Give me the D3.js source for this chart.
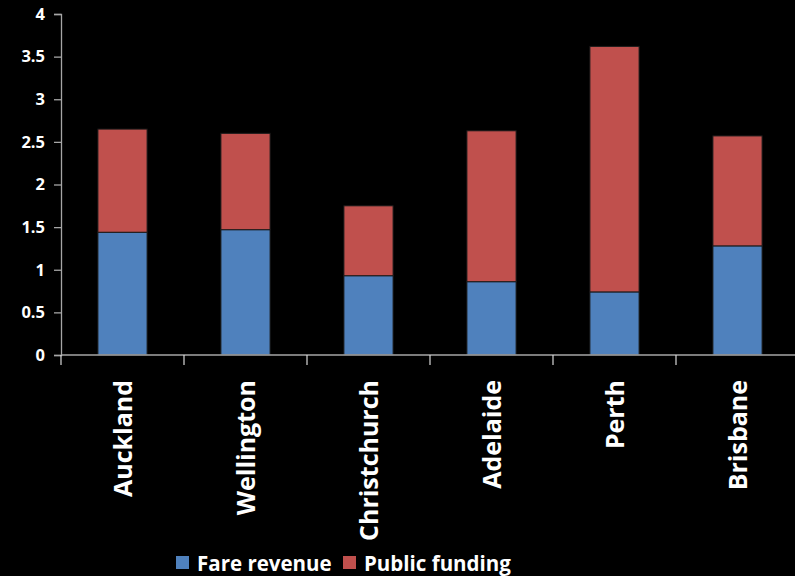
<!DOCTYPE html>
<html>
<head>
<meta charset="utf-8">
<script src="https://cdn.jsdelivr.net/npm/d3@7"></script>
<style>
  html, body { margin: 0; padding: 0; background: #000; overflow: hidden; }
  svg { display: block; }
  text { font-family: "Open Sans", "Noto Sans", sans-serif; font-weight: bold; fill: #fff; }
</style>
</head>
<body>
<svg id="chart" width="795" height="576"></svg>
<script>
// Operating cost per passenger split into fare revenue and public funding
const cities = ["Auckland", "Wellington", "Christchurch", "Adelaide", "Perth", "Brisbane"];
const fareRevenue = [1.44, 1.47, 0.93, 0.86, 0.74, 1.28];
const publicFunding = [1.21, 1.13, 0.82, 1.77, 2.88, 1.29];
const seriesNames = ["Fare revenue", "Public funding"];
const seriesColors = ["#4F81BD", "#C0504D"];
const yTicks = [0, 0.5, 1, 1.5, 2, 2.5, 3, 3.5, 4];

const svg = d3.select("#chart");
const width = 795, height = 576;
const plotLeft = 61, plotRight = 799, plotTop = 14, plotBottom = 355;

const rows = cities.map((c, i) => ({ city: c, "Fare revenue": fareRevenue[i], "Public funding": publicFunding[i] }));
const stacked = d3.stack().keys(seriesNames)(rows);

const x = d3.scaleBand().domain(cities).range([plotLeft, plotRight]).paddingInner(0.6).paddingOuter(0.3);
const y = d3.scaleLinear().domain([0, 4]).range([plotBottom, plotTop]);
const color = d3.scaleOrdinal().domain(seriesNames).range(seriesColors);

// Bars
svg.append("g").selectAll("g")
  .data(stacked).join("g")
  .attr("fill", d => color(d.key))
  .selectAll("rect")
  .data(d => d).join("rect")
  .attr("x", d => x(d.data.city))
  .attr("width", x.bandwidth())
  .attr("y", d => y(d[1]))
  .attr("height", d => y(d[0]) - y(d[1]))
  .attr("stroke", "#1a1a1a")
  .attr("stroke-width", 1);

// Y axis
const yAxis = svg.append("g")
  .attr("transform", `translate(${plotLeft},0)`)
  .call(d3.axisLeft(y).tickValues(yTicks).tickFormat(d3.format("")).tickSize(7).tickPadding(9));
yAxis.selectAll("line, path").attr("stroke", "#a6a6a6").attr("stroke-width", 1.3);
yAxis.selectAll("text").style("font-size", "16.5px").attr("fill", "#fff");

// X axis with ticks at category boundaries
const xBase = y(0);
const xg = svg.append("g");
xg.append("line")
  .attr("x1", plotLeft).attr("x2", plotRight)
  .attr("y1", xBase).attr("y2", xBase)
  .attr("stroke", "#a6a6a6").attr("stroke-width", 1.5);
const bounds = d3.range(cities.length + 1).map(i => plotLeft + x.step() * i);
xg.selectAll("line.tick").data(bounds).join("line")
  .attr("class", "tick")
  .attr("x1", d => d).attr("x2", d => d)
  .attr("y1", xBase).attr("y2", xBase + 10)
  .attr("stroke", "#d9d9d9").attr("stroke-width", 1.2);
xg.selectAll("text").data(cities).join("text")
  .attr("transform", d => `translate(${x(d) + x.bandwidth() / 2 + 9},${xBase + 25}) rotate(-90)`)
  .attr("text-anchor", "end")
  .style("font-size", "25px")
  .text(d => d);

// Legend
const legend = svg.append("g").attr("transform", "translate(176,563)");
const items = [{ name: seriesNames[0], x: 0 }, { name: seriesNames[1], x: 167 }];
items.forEach(it => {
  const g = legend.append("g").attr("transform", `translate(${it.x},0)`);
  g.append("rect").attr("x", 0).attr("y", -7).attr("width", 13).attr("height", 13).attr("fill", color(it.name));
  g.append("text").attr("x", 21).attr("y", 7.5).style("font-size", "20.5px").text(it.name);
});
</script>
</body>
</html>
